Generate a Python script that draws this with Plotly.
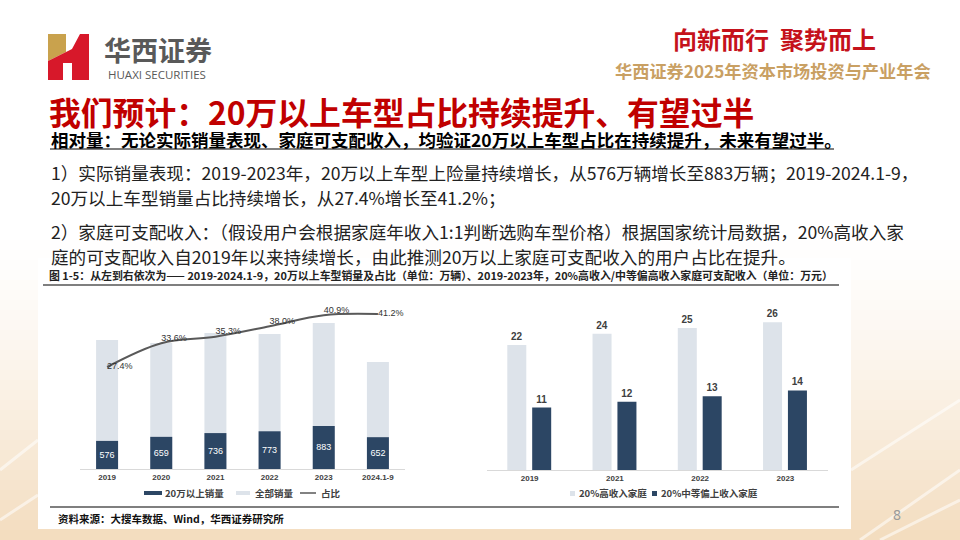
import plotly.graph_objects as go

# ---------------- data ----------------
years_left = ["2019", "2020", "2021", "2022", "2023", "2024.1-9"]
premium_sales = [576, 659, 736, 773, 883, 652]          # 20万以上销量 (万辆)
total_sales = [2645, 2583, 2788, 2768, 2993, 2194]      # 全部销量
share_pct = [27.4, 33.6, 35.3, 38.0, 40.9, 41.2]        # 占比 (%)
share_labels = ["27.4%", "33.6%", "35.3%", "38.0%", "40.9%", "41.2%"]

years_right = ["2019", "2021", "2022", "2023"]
high_income = [22, 24, 25, 26]          # 20%高收入家庭 (万元)
upper_mid_income = [11, 12, 13, 14]     # 20%中等偏上收入家庭 (万元)

# ---------------- helpers ----------------
W, H = 960, 540
def X(px): return px / W
def Y(py): return 1 - py / H

FONT = "Noto Sans CJK SC"
NAVY = "#2c4664"
LIGHT = "#dde3ea"
LINE = "#595959"

fig = go.Figure()

# left chart
fig.add_trace(go.Bar(x=years_left, y=total_sales, xaxis="x", yaxis="y",
                     marker=dict(color=LIGHT, line=dict(width=0)), width=0.406,
                     name="全部销量", showlegend=False, hoverinfo="skip"))
fig.add_trace(go.Bar(x=years_left, y=premium_sales, xaxis="x", yaxis="y",
                     marker=dict(color=NAVY, line=dict(width=0)), width=0.406,
                     text=[str(v) for v in premium_sales], textposition="inside",
                     insidetextanchor="middle", textangle=0, constraintext="none",
                     textfont=dict(color="white", size=9, family="Liberation Sans"),
                     name="20万以上销量", showlegend=False))
fig.add_trace(go.Scatter(x=years_left, y=share_pct, xaxis="x", yaxis="y2",
                         mode="lines+text", line=dict(color=LINE, width=2, shape="spline"),
                         text=share_labels,
                         textposition=["middle right", "top right", "top right",
                                       "top right", "top right", "middle right"],
                         textfont=dict(size=9, color="#333333", family="Liberation Sans"),
                         cliponaxis=False, name="占比", showlegend=False))

# right chart
fig.add_trace(go.Bar(x=years_right, y=high_income, xaxis="x2", yaxis="y3",
                     marker=dict(color=LIGHT, line=dict(width=0)), width=0.223, offset=-0.262,
                     text=[str(v) for v in high_income], textposition="outside",
                     textfont=dict(size=10, color="#404040", family="Liberation Sans", weight="bold"),
                     cliponaxis=False, name="20%高收入家庭", showlegend=False))
fig.add_trace(go.Bar(x=years_right, y=upper_mid_income, xaxis="x2", yaxis="y3",
                     marker=dict(color=NAVY, line=dict(width=0)), width=0.223, offset=0.03,
                     text=[str(v) for v in upper_mid_income], textposition="outside",
                     textfont=dict(size=10, color="#404040", family="Liberation Sans", weight="bold"),
                     cliponaxis=False, name="20%中等偏上收入家庭", showlegend=False))

# ---------------- shapes ----------------
shapes = []
# background gradient (bottom cream)
top_c = (255, 255, 255)
bot_c = (243, 220, 190)
y0 = 230
n = 31
for i in range(n):
    t = ((i + 0.5) / n) ** 1.4
    c = tuple(int(round(top_c[k] + (bot_c[k] - top_c[k]) * t)) for k in range(3))
    ya = y0 + (H - y0) * i / n
    yb = y0 + (H - y0) * (i + 1) / n + 0.6
    shapes.append(dict(type="rect", xref="paper", yref="paper", x0=0, x1=1,
                       y0=Y(yb), y1=Y(ya), fillcolor="rgb(%d,%d,%d)" % c,
                       line=dict(width=0), layer="below"))
# light streaks
for (xa, ya_, xb, yb_) in [(860, 540, 960, 470), (880, 540, 960, 500), (851, 470, 960, 400),
                           (0, 470, 38, 440), (0, 520, 38, 495)]:
    shapes.append(dict(type="line", xref="paper", yref="paper", x0=X(xa), y0=Y(ya_), x1=X(xb), y1=Y(yb_),
                       line=dict(color="rgba(255,255,255,0.55)", width=3), layer="below"))
# white chart box
shapes.append(dict(type="rect", xref="paper", yref="paper", x0=X(38), x1=X(851), y0=Y(529), y1=Y(258),
                   fillcolor="white", line=dict(width=0), layer="below"))
# caption rules
shapes.append(dict(type="line", xref="paper", yref="paper", x0=X(43), x1=X(839), y0=Y(285), y1=Y(285),
                   line=dict(color="#7f7f7f", width=2)))
shapes.append(dict(type="line", xref="paper", yref="paper", x0=X(50), x1=X(839), y0=Y(507), y1=Y(507),
                   line=dict(color="#7f7f7f", width=2)))
# subtitle underline
shapes.append(dict(type="line", xref="paper", yref="paper", x0=X(50), x1=X(834), y0=Y(149), y1=Y(149),
                   line=dict(color="black", width=1)))

# logo
def path(pts):
    return "M" + " L".join("%.5f,%.5f" % (X(a), Y(b)) for a, b in pts) + " Z"
shapes.append(dict(type="path", xref="paper", yref="paper",
                   path=path([(48, 34), (66, 34), (66, 52), (48, 61)]),
                   fillcolor="#c9a24d", line=dict(width=0)))
shapes.append(dict(type="path", xref="paper", yref="paper",
                   path=path([(48, 61), (66, 52), (72, 49), (80, 34), (89, 34), (89, 80), (72, 80),
                              (72, 63), (63, 63), (63, 80), (48, 80)]),
                   fillcolor="#d7182a", line=dict(width=0)))

# legends (left)
shapes.append(dict(type="rect", xref="paper", yref="paper", x0=X(144), x1=X(162), y0=Y(495), y1=Y(491),
                   fillcolor=NAVY, line=dict(width=0)))
shapes.append(dict(type="rect", xref="paper", yref="paper", x0=X(236), x1=X(250), y0=Y(495), y1=Y(491),
                   fillcolor=LIGHT, line=dict(width=0)))
shapes.append(dict(type="line", xref="paper", yref="paper", x0=X(300), x1=X(316), y0=Y(493), y1=Y(493),
                   line=dict(color=LINE, width=1.5)))
# legends (right)
shapes.append(dict(type="rect", xref="paper", yref="paper", x0=X(570), x1=X(575), y0=Y(496), y1=Y(491),
                   fillcolor=LIGHT, line=dict(width=0)))
shapes.append(dict(type="rect", xref="paper", yref="paper", x0=X(652), x1=X(657), y0=Y(496), y1=Y(491),
                   fillcolor=NAVY, line=dict(width=0)))

# ---------------- annotations ----------------
ann = []
def txt(x, y, s, size, color="#222222", bold=False, family=FONT, anchor="left"):
    ann.append(dict(x=X(x), y=Y(y), xref="paper", yref="paper", text=s, showarrow=False,
                    xanchor=anchor, yanchor="middle",
                    font=dict(size=size, color=color, family=family,
                              weight="bold" if bold else "normal")))

txt(102, 49, "华西证券", 27, "#595959", bold=True)
txt(106, 75, "HUAXI SECURITIES", 11.5, "#595959", family="Open Sans")
txt(671, 39, "向新而行  聚势而上", 24, "#c5121b", bold=True)
txt(613, 70, "华西证券2025年资本市场投资与产业年会", 17.2, "#c9a063", bold=True)

txt(47, 111, "我们预计：20万以上车型占比持续提升、有望过半", 31.8, "#c00000", bold=True)
txt(49, 139, "相对量：无论实际销量表现、家庭可支配收入，均验证20万以上车型占比在持续提升，未来有望过半。", 17.5, "#000000", bold=True)
txt(49, 172, "1）实际销量表现：2019-2023年，20万以上车型上险量持续增长，从576万辆增长至883万辆；2019-2024.1-9，", 17.6, "#222222")
txt(49, 197, "20万以上车型销量占比持续增长，从27.4%增长至41.2%；", 17.6, "#222222")
txt(49, 232, "2）家庭可支配收入：（假设用户会根据家庭年收入1:1判断选购车型价格）根据国家统计局数据，20%高收入家", 17.6, "#222222")
txt(49, 256, "庭的可支配收入自2019年以来持续增长，由此推测20万以上家庭可支配收入的用户占比在提升。", 17.6, "#222222")

txt(47, 275, "图 1-5：从左到右依次为—— 2019-2024.1-9，20万以上车型销量及占比（单位：万辆）、2019-2023年，20%高收入/中等偏高收入家庭可支配收入（单位：万元）",
    10.9, "#222222", bold=True)
txt(56, 518, "资料来源：大搜车数据、Wind，华西证券研究所", 10.5, "#111111", bold=True)
txt(897, 514, "8", 14, "#9a9a9a", family="Noto Sans", anchor="center")

# legend texts
txt(163, 493, "20万以上销量", 9.5, "#404040", bold=True)
txt(253, 493, "全部销量", 9.5, "#404040", bold=True)
txt(319, 493, "占比", 9.5, "#404040", bold=True)
txt(577, 493, "20%高收入家庭", 9.5, "#404040", bold=True)
txt(659, 493, "20%中等偏上收入家庭", 9.5, "#404040", bold=True)

# ---------------- layout ----------------
ydom_left = [Y(469), Y(300)]
ydom_right = [Y(470), Y(300)]
fig.update_layout(
    width=W, height=H, margin=dict(l=0, r=0, t=0, b=0),
    paper_bgcolor="white", plot_bgcolor="rgba(0,0,0,0)",
    barmode="overlay", showlegend=False,
    font=dict(family=FONT),
    xaxis=dict(domain=[X(80), X(405)], anchor="y", type="category", categoryorder="array",
               categoryarray=years_left, showline=True, linecolor="#d9d9d9", linewidth=1,
               showgrid=False, zeroline=False, ticks="", fixedrange=True,
               tickfont=dict(size=8, color="#404040", family="Liberation Sans", weight="bold")),
    yaxis=dict(domain=ydom_left, anchor="x", range=[0, 3464], visible=False, fixedrange=True),
    yaxis2=dict(overlaying="y", anchor="x", range=[0.84, 44.85], visible=False, fixedrange=True),
    xaxis2=dict(domain=[X(487), X(828)], anchor="y3", type="category", categoryorder="array",
                categoryarray=years_right, showline=True, linecolor="#d9d9d9", linewidth=1,
                showgrid=False, zeroline=False, ticks="", fixedrange=True,
                tickfont=dict(size=8, color="#404040", family="Liberation Sans", weight="bold")),
    yaxis3=dict(domain=ydom_right, anchor="x2", range=[0, 29.93], visible=False, fixedrange=True),
    shapes=shapes, annotations=ann,
)

fig.write_html("out.html", config={"displayModeBar": False},
               post_script="document.body.style.margin='0px';document.body.style.overflow='hidden';")
